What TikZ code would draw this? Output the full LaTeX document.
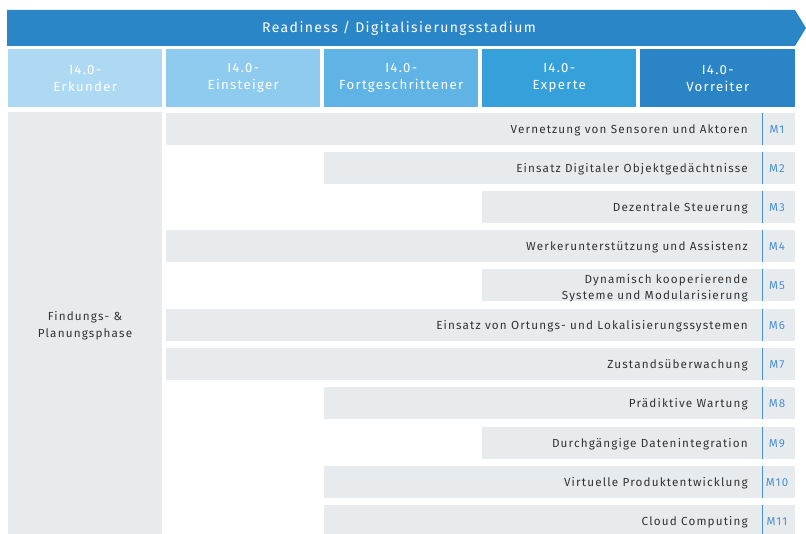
\documentclass[tikz,border=0pt]{standalone}
\usepackage{fontspec}
\setmainfont[LetterSpace=10]{Fira Sans}
\definecolor{banner}{HTML}{2B86C8}
\definecolor{tA}{HTML}{AED9F3}
\definecolor{tB}{HTML}{8ECBEE}
\definecolor{tC}{HTML}{5FB3E5}
\definecolor{tD}{HTML}{35A0DA}
\definecolor{tE}{HTML}{2A84C6}
\definecolor{rowgray}{HTML}{E8EBEE}
\definecolor{txt}{HTML}{333333}
\definecolor{mblue}{HTML}{4A90D0}
\begin{document}
\begin{tikzpicture}[x=1pt,y=-1pt,
  tier/.style={anchor=north west, minimum width=154pt, minimum height=58pt, inner sep=0pt, text=white, font=\fontsize{13.2}{17}\selectfont, align=center},
  rowbox/.style={anchor=north west, fill=rowgray, minimum height=32pt, inner sep=0pt},
  rowtext/.style={anchor=east, text=txt, font=\fontsize{11.7}{15.5}\selectfont, align=right, inner sep=0pt},
  mlabel/.style={text=mblue, font=\fontsize{11.5}{14}\selectfont, inner sep=0pt},
  sepline/.style={draw=mblue, line width=0.8pt}]
\useasboundingbox (0,0) rectangle (806,534);
% banner
\fill[banner] (7,10) -- (795,10) -- (806,28) -- (795,46) -- (7,46) -- cycle;
\node[text=white, font=\fontsize{14}{17}\selectfont] (title) at (399,28) {Readiness / Digitalisierungsstadium};
% tiers
\node[tier, fill=tA] (s1) at (8,49) {I4.0-\\Erkunder};
\node[tier, fill=tB] (s2) at (166,49) {I4.0-\\Einsteiger};
\node[tier, fill=tC] (s3) at (324,49) {I4.0-\\Fortgeschrittener};
\node[tier, fill=tD] (s4) at (482,49) {I4.0-\\Experte};
\node[tier, fill=tE, minimum width=155pt] (s5) at (640,49) {I4.0-\\Vorreiter};
% phase
\node[anchor=north west, fill=rowgray, minimum width=154pt, minimum height=422pt, inner sep=0pt] (phase) at (8,112) {};
\node[text=txt, font=\fontsize{11.7}{17}\selectfont, align=center] (phasetxt) at (85,326) {Findungs- \&\\Planungsphase};
% rows
\foreach \i/\x/\y/\h/\o/\t in {
  1/166/113/32/17/{Vernetzung von Sensoren und Aktoren},
  2/324/152/32/17/{Einsatz Digitaler Objektgedächtnisse},
  3/482/191/32/17/{Dezentrale Steuerung},
  4/166/230/32/17/{Werkerunterstützung und Assistenz},
  5/482/269/32/19/{Dynamisch kooperierende\\Systeme und Modularisierung},
  6/166/309/32/17/{Einsatz von Ortungs- und Lokalisierungssystemen},
  7/166/348/32/17/{Zustandsüberwachung},
  8/324/387/32/17/{Prädiktive Wartung},
  9/482/427/32/17/{Durchgängige Datenintegration},
  10/324/466/32/17/{Virtuelle Produktentwicklung},
  11/324/505/29/17/{Cloud Computing}}{
  \pgfmathsetmacro{\w}{795-\x}
  \node[rowbox, minimum width=\w pt, minimum height=\h pt] (r\i) at (\x,\y) {};
  \node[rowtext] (t\i) at (748,\y+\o) {\t};
  \draw[sepline] (762,\y) -- (762,\y+\h);
  \node[mlabel] (m\i) at (777,\y+17) {M\i};
}
\end{tikzpicture}
\end{document}
